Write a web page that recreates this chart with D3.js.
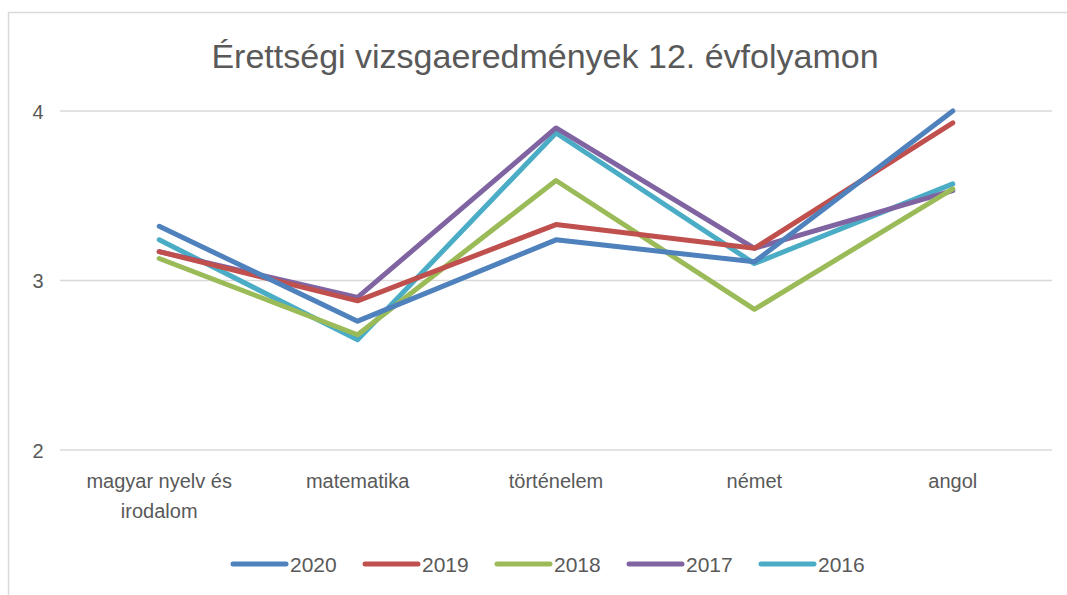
<!DOCTYPE html>
<html>
<head>
<meta charset="utf-8">
<script src="https://cdn.jsdelivr.net/npm/d3@7"></script>
<style>
  body { margin: 0; background: #fff; }
  text { font-family: "Liberation Sans", Arial, sans-serif; fill: #595959; }
</style>
</head>
<body>
<div id="chart"></div>
<script>
// tantárgyak és évek
const subjects = [["magyar nyelv és", "irodalom"], ["matematika"], ["történelem"], ["német"], ["angol"]];
const years = ["2020", "2019", "2018", "2017", "2016"];
const colors = ["#4F81BD", "#C0504D", "#9BBB59", "#8064A2", "#4BACC6"];

// átlagok évenként
const v2020 = [3.32, 2.76, 3.24, 3.11, 4.00];
const v2019 = [3.17, 2.88, 3.33, 3.19, 3.93];
const v2018 = [3.13, 2.68, 3.59, 2.83, 3.54];
const v2017 = [3.17, 2.90, 3.90, 3.19, 3.53];
const v2016 = [3.24, 2.65, 3.87, 3.10, 3.57];
const yTicks = [2, 3, 4];

const series = [v2020, v2019, v2018, v2017, v2016].map((vals, i) => ({ year: years[i], color: colors[i], vals }));

const width = 1067, height = 595;
const margin = { top: 111, right: 15, bottom: 145, left: 60 };

const svg = d3.select("#chart").append("svg")
  .attr("width", width)
  .attr("height", height);

// keret
svg.append("rect")
  .attr("x", 8.5).attr("y", 12.5)
  .attr("width", width + 10).attr("height", height + 10)
  .attr("fill", "none")
  .attr("stroke", "#d9d9d9")
  .attr("stroke-width", 1.5);

svg.append("text")
  .attr("x", 545).attr("y", 68)
  .attr("text-anchor", "middle")
  .attr("font-size", 34)
  .text("Érettségi vizsgaeredmények 12. évfolyamon");

const x = d3.scaleBand()
  .domain(d3.range(subjects.length))
  .range([margin.left, 1052]);

const y = d3.scaleLinear()
  .domain([2, 4])
  .range([450, 111]);

// rácsvonalak
svg.append("g")
  .selectAll("line")
  .data(yTicks)
  .join("line")
  .attr("x1", margin.left).attr("x2", 1052)
  .attr("y1", d => y(d)).attr("y2", d => y(d))
  .attr("stroke", "#d9d9d9")
  .attr("stroke-width", 1.3);

const yAxis = svg.append("g")
  .attr("transform", `translate(${margin.left - 22},0)`)
  .call(d3.axisLeft(y).tickValues(yTicks).tickFormat(d3.format("d")).tickSize(0).tickPadding(0));
yAxis.select(".domain").remove();
yAxis.selectAll("text")
  .attr("font-size", 20)
  .attr("font-family", "Liberation Sans, Arial, sans-serif")
  .attr("fill", "#595959")
  .attr("text-anchor", "middle")
  .attr("dy", "0.36em");

// kategória feliratok
svg.append("g")
  .selectAll("text")
  .data(subjects)
  .join("text")
  .attr("x", (d, i) => x(i) + x.bandwidth() / 2)
  .attr("y", 488)
  .attr("text-anchor", "middle")
  .attr("font-size", 20)
  .selectAll("tspan")
  .data(d => d)
  .join("tspan")
  .attr("x", function () { return this.parentNode.getAttribute("x"); })
  .attr("dy", (d, i) => i === 0 ? 0 : 30)
  .text(d => d);

const line = d3.line()
  .x((d, i) => x(i) + x.bandwidth() / 2)
  .y(d => y(d));

// vonalak (2016 legfelül)
svg.append("g")
  .selectAll("path")
  .data(series.slice().reverse())
  .join("path")
  .attr("d", d => line(d.vals))
  .attr("fill", "none")
  .attr("stroke", d => d.color)
  .attr("stroke-width", 5)
  .attr("stroke-linejoin", "round")
  .attr("stroke-linecap", "round");

// jelmagyarázat
const legend = svg.append("g")
  .selectAll("g")
  .data(series)
  .join("g")
  .attr("transform", (d, i) => `translate(${233 + i * 132},564)`);

legend.append("line")
  .attr("x1", 0).attr("x2", 53)
  .attr("stroke", d => d.color)
  .attr("stroke-width", 5)
  .attr("stroke-linecap", "round");

legend.append("text")
  .attr("x", 57).attr("y", 8)
  .attr("font-size", 21)
  .text(d => d.year);
</script>
</body>
</html>
